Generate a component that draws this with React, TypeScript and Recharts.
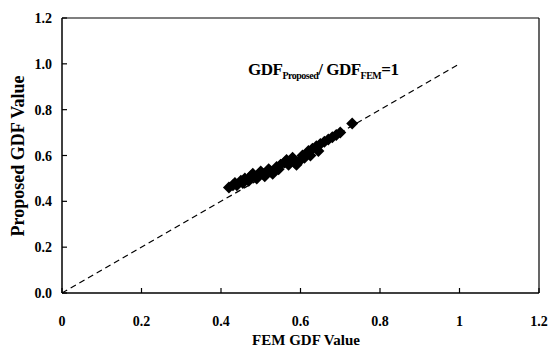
import { ScatterChart, Scatter, XAxis, YAxis, ReferenceLine } from "recharts";

const femGdf = [
  0.42, 0.43, 0.435, 0.44, 0.45, 0.455, 0.46, 0.47, 0.475, 0.48, 0.49, 0.5, 0.505, 0.51,
  0.52, 0.525, 0.53, 0.54, 0.545, 0.55, 0.56, 0.565, 0.57, 0.58, 0.585, 0.59, 0.6, 0.605,
  0.61, 0.62, 0.625, 0.63, 0.64, 0.645, 0.65, 0.66, 0.67, 0.68, 0.69, 0.7, 0.73,
];
const proposedGdf = [
  0.46, 0.47, 0.48, 0.47, 0.49, 0.48, 0.5, 0.49, 0.51, 0.52, 0.5, 0.53, 0.52, 0.51,
  0.54, 0.53, 0.52, 0.55, 0.54, 0.56, 0.57, 0.58, 0.56, 0.59, 0.57, 0.56, 0.58, 0.6,
  0.59, 0.62, 0.6, 0.63, 0.64, 0.62, 0.65, 0.66, 0.67, 0.68, 0.69, 0.7, 0.74,
];
const xTicks = [0, 0.2, 0.4, 0.6, 0.8, 1, 1.2];
const yTicks = [0, 0.2, 0.4, 0.6, 0.8, 1.0, 1.2];

const data = femGdf.map((x, i) => ({ x, y: proposedGdf[i] }));

const FONT = "'Liberation Serif', 'Times New Roman', serif";

const XTick = ({ x, y, payload }: any) => (
  <g>
    <line x1={x} y1={y} x2={x} y2={y - 5} stroke="#000" strokeWidth={1.2} />
    <text x={x} y={y + 33} textAnchor="middle" fontFamily={FONT} fontWeight="bold" fontSize={14} fill="#000">
      {String(payload.value)}
    </text>
  </g>
);

const YTick = ({ x, y, payload }: any) => (
  <g>
    <line x1={x} y1={y} x2={x + 5} y2={y} stroke="#000" strokeWidth={1.2} />
    <text x={x - 10} y={y + 5} textAnchor="end" fontFamily={FONT} fontWeight="bold" fontSize={14} fill="#000">
      {payload.value.toFixed(1)}
    </text>
  </g>
);

const Diamond = ({ cx, cy }: any) => (
  <path d={`M${cx},${cy - 6}L${cx + 6},${cy}L${cx},${cy + 6}L${cx - 6},${cy}Z`} fill="#000" />
);

export default function App() {
  return (
    <div style={{ position: "absolute", left: 0, top: 0, width: 549, height: 347, background: "#fff" }}>
      <ScatterChart width={549} height={347} margin={{ top: 17, right: 9, bottom: 14, left: 0 }}>
        <XAxis
          type="number"
          dataKey="x"
          domain={[0, 1.2]}
          ticks={xTicks}
          tick={<XTick />}
          tickSize={0}
          tickMargin={0}
          tickLine={false}
          axisLine={{ stroke: "#000", strokeWidth: 1.5 }}
          height={40}
        />
        <XAxis
          xAxisId="top"
          orientation="top"
          type="number"
          domain={[0, 1.2]}
          tick={false}
          tickLine={false}
          axisLine={{ stroke: "#000", strokeWidth: 1.2 }}
          height={1}
        />
        <YAxis
          type="number"
          dataKey="y"
          domain={[0, 1.2]}
          ticks={yTicks}
          tick={<YTick />}
          tickSize={0}
          tickMargin={0}
          tickLine={false}
          axisLine={{ stroke: "#000", strokeWidth: 1.5 }}
          width={62}
        />
        <YAxis
          yAxisId="right"
          orientation="right"
          type="number"
          domain={[0, 1.2]}
          tick={false}
          tickLine={false}
          axisLine={{ stroke: "#000", strokeWidth: 1.2 }}
          width={1}
        />
        <ReferenceLine
          segment={[{ x: 0, y: 0 }, { x: 1, y: 1 }]}
          stroke="#000"
          strokeWidth={1.2}
          strokeDasharray="6 4"
        />
        <Scatter data={data} shape={<Diamond />} isAnimationActive={false} />
      </ScatterChart>
      <div
        style={{
          position: "absolute",
          left: 248,
          top: 60,
          fontFamily: FONT,
          fontWeight: "bold",
          fontSize: 17,
          color: "#000",
          whiteSpace: "nowrap",
          letterSpacing: -0.5,
        }}
      >
        GDF<sub style={{ fontSize: 10 }}>Proposed</sub>/ GDF<sub style={{ fontSize: 10 }}>FEM</sub>=1
      </div>
      <div
        style={{
          position: "absolute",
          left: 18,
          top: 156,
          transform: "translate(-50%, -50%) rotate(-90deg)",
          fontFamily: FONT,
          fontWeight: "bold",
          fontSize: 18,
          whiteSpace: "nowrap",
        }}
      >
        Proposed GDF Value
      </div>
      <div
        style={{
          position: "absolute",
          left: 306,
          top: 340,
          transform: "translate(-50%, -50%)",
          fontFamily: FONT,
          fontWeight: "bold",
          fontSize: 15,
          lineHeight: "15px",
          whiteSpace: "nowrap",
        }}
      >
        FEM GDF Value
      </div>
    </div>
  );
}
